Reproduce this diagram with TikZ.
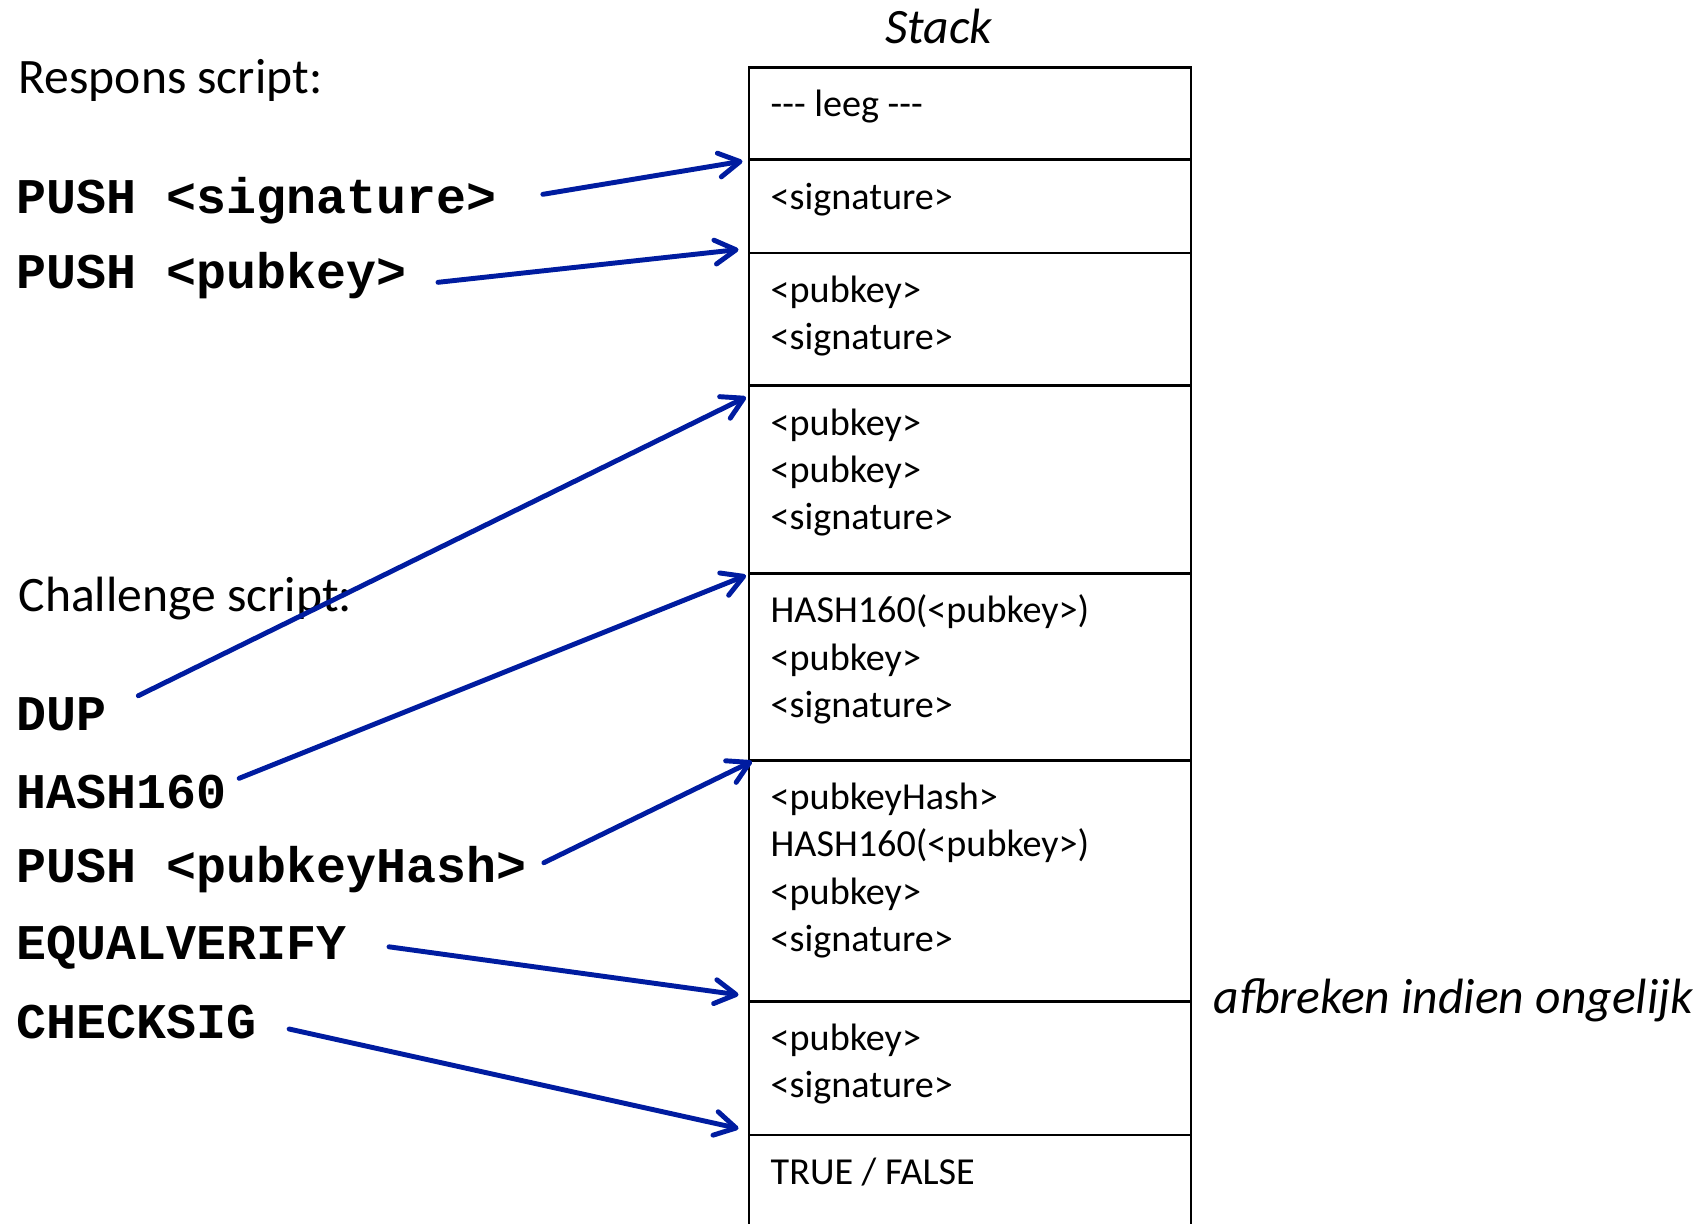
\documentclass[tikz,border=0pt]{standalone}
\usepackage{fontspec}
\setmainfont{Carlito}
\newfontfamily\opfont{Liberation Mono}
\usetikzlibrary{positioning,arrows.meta,calc}
\definecolor{pushblue}{RGB}{0,28,160}
\newcommand{\cellrows}[1]{\begin{tabular}[t]{@{}l@{}}#1\end{tabular}}
\tikzset{
  >={Straight Barb[length=2.1mm,width=2.4mm,round]},
  cell/.style={draw=black,line width=0.7pt,minimum width=4.42cm,
    inner sep=0pt,outer sep=0pt,anchor=north west},
  celltxt/.style={anchor=base west,inner sep=0pt,
    font=\fontsize{10.85}{13.4}\selectfont},
  lbl/.style={anchor=base west,inner sep=0pt,font=\fontsize{14.1}{16}\selectfont},
  itlbl/.style={inner sep=0pt,font=\fontsize{14.1}{16}\selectfont\itshape},
  op/.style={anchor=base west,inner sep=0pt,
    font=\opfont\bfseries\fontsize{14.2}{16}\selectfont},
  push/.style={->,draw=pushblue,line width=1.4pt,line cap=round},
}

\begin{document}
\begin{tikzpicture}[x=0.01cm,y=-0.01cm]
  \useasboundingbox (0,0) rectangle (1702,1223);
  \clip (0,0) rectangle (1702,1223);

  % stack
  \node[itlbl,anchor=base] (stk) at (939,43.3) {Stack};
  \node[cell,minimum height=0.923cm] (c0) at (749,67.3) {};
  \node[cell,minimum height=0.933cm,below=0pt of c0] (c1) {};
  \node[cell,minimum height=1.325cm,below=0pt of c1] (c2) {};
  \node[cell,minimum height=1.877cm,below=0pt of c2] (c3) {};
  \node[cell,minimum height=1.868cm,below=0pt of c3] (c4) {};
  \node[cell,minimum height=2.409cm,below=0pt of c4] (c5) {};
  \node[cell,minimum height=1.336cm,below=0pt of c5] (c6) {};
  \node[cell,minimum height=1.300cm,below=0pt of c6] (c7) {};

  \node[celltxt] (t0) at ($(c0.north west)+(21,49.5)$) {-{}-{}- leeg -{}-{}-};
  \node[celltxt] (t1) at ($(c1.north west)+(21,49.5)$) {<signature>};
  \node[celltxt] (t2) at ($(c2.north west)+(21,49.5)$) {\cellrows{<pubkey>\\<signature>}};
  \node[celltxt] (t3) at ($(c3.north west)+(21,49.5)$) {\cellrows{<pubkey>\\<pubkey>\\<signature>}};
  \node[celltxt] (t4) at ($(c4.north west)+(21,49.5)$) {\cellrows{HASH160(<pubkey>)\\<pubkey>\\<signature>}};
  \node[celltxt] (t5) at ($(c5.north west)+(21,49.5)$) {\cellrows{<pubkeyHash>\\HASH160(<pubkey>)\\<pubkey>\\<signature>}};
  \node[celltxt] (t6) at ($(c6.north west)+(21,49.5)$) {\cellrows{<pubkey>\\<signature>}};
  \node[celltxt] (t7) at ($(c7.north west)+(21,49.5)$) {TRUE / FALSE};

  \node[itlbl,anchor=base west] (abort) at (1213,1013.3) {afbreken indien ongelijk};

  % scripts
  \node[lbl] (resp) at (18,93.3) {Respons script:};
  \node[op] (op1) at (16,213.3) {PUSH <signature>};
  \node[op] (op2) at (16,288.3) {PUSH <pubkey>};

  \node[lbl] (chal) at (18,611.7) {Challenge script:};
  \node[op] (op3) at (16,730.7) {DUP};
  \node[op] (op4) at (16,808.3) {HASH160};
  \node[op] (op5) at (16,882.7) {PUSH <pubkeyHash>};
  \node[op] (op6) at (16,959.3) {EQUALVERIFY};
  \node[op] (op7) at (16,1038) {CHECKSIG};

  % arrows into the stack
  \draw[push] ($(op1.base east)+(46,-19)$) -- ($(c1.north west)+(-6.5,1.5)$);
  \draw[push] ($(op2.base east)+(31,-6)$) -- ($(c2.north west)+(-10.5,-3.5)$);
  \draw[push] ($(op3.base east)+(31,-35)$) -- ($(c3.north west)+(-3,11.5)$);
  \draw[push] ($(op4.base east)+(12,-30)$) -- ($(c4.north west)+(-3,2)$);
  \draw[push] ($(op5.base east)+(17,-20)$) -- ($(c5.north west)+(3,1)$);
  \draw[push] ($(op6.base east)+(42,-12.5)$) -- ($(c6.north west)+(-10.5,-6.5)$);
  \draw[push] ($(op7.base east)+(32,-9)$) -- ($(c7.north west)+(-10.5,-6.5)$);
\end{tikzpicture}
\end{document}
